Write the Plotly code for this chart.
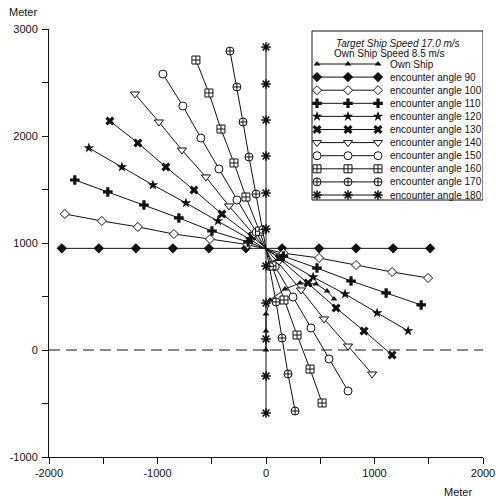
import plotly.graph_objects as go

# ---------------- data (metres) ----------------
own_x = [0, 0, 0, 37, 175, 314, 461, 563, 627]
own_y = [0, 178, 336, 467, 570, 626, 617, 551, 477]

x90 = [-1882, -1541, -1199, -858, -526, -185, 148, 489, 830, 1172, 1513]
y90 = [950, 950, 950, 950, 950, 950, 950, 950, 950, 950, 950]

x100 = [-1854, -1513, -1181, -849, -517, -170, 160, 489, 830, 1162, 1494]
y100 = [1271, 1206, 1150, 1084, 1037, 985, 905, 860, 794, 729, 673]

x110 = [-1762, -1458, -1125, -803, -498, -165, 160, 470, 784, 1107, 1430]
y110 = [1589, 1477, 1355, 1234, 1112, 1010, 877, 766, 645, 533, 421]

x120 = [-1633, -1328, -1042, -738, -443, -150, 140, 434, 729, 1024, 1310]
y120 = [1888, 1710, 1542, 1374, 1206, 1035, 851, 682, 523, 346, 178]

x130 = [-1439, -1181, -923, -664, -406, -130, 120, 387, 646, 904, 1162]
y130 = [2140, 1935, 1710, 1495, 1271, 1060, 858, 626, 393, 178, -47]

x140 = [-1208, -987, -775, -554, -341, -110, 110, 323, 535, 756, 978]
y140 = [2393, 2131, 1869, 1617, 1346, 1080, 817, 561, 290, 37, -224]

x150 = [-950, -766, -600, -434, -268, -90, 85, 249, 415, 581, 756]
y150 = [2579, 2280, 1981, 1692, 1402, 1100, 779, 495, 206, -84, -383]

x160 = [-646, -526, -415, -295, -185, -60, 55, 166, 286, 406, 517]
y160 = [2710, 2402, 2065, 1748, 1430, 1110, 787, 467, 140, -178, -495]

x170 = [-332, -268, -212, -157, -92, -30, 35, 92, 148, 203, 268]
y170 = [2794, 2458, 2131, 1804, 1458, 1125, 780, 449, 112, -224, -570]

x180 = [0, 0, 0, 0, 0, 0, 0, 0, 0, 0, 0]
y180 = [2832, 2486, 2150, 1813, 1467, 1131, 785, 439, 103, -243, -589]

names = ["Own Ship", "encounter angle 90", "encounter angle 100", "encounter angle 110",
         "encounter angle 120", "encounter angle 130", "encounter angle 140",
         "encounter angle 150", "encounter angle 160", "encounter angle 170",
         "encounter angle 180"]
series_x = [own_x, x90, x100, x110, x120, x130, x140, x150, x160, x170, x180]
series_y = [own_y, y90, y100, y110, y120, y130, y140, y150, y160, y170, y180]

x_ticks = [-2000, -1000, 0, 1000, 2000]
x_ticktext = ["-2000", "-1000", "0", "1000", "2000"]
y_ticks = [-1000, 0, 1000, 2000, 3000]
y_ticktext = ["-1000", "0", "1000", "2000", "3000"]

# ---------------- styles ----------------
BLACK = "#111"
styles = [
    dict(symbol="triangle-up", size=6, color=BLACK, line=dict(width=0)),
    dict(symbol="diamond", size=8, color=BLACK, line=dict(width=0)),
    dict(symbol="diamond", size=7, color="white", line=dict(width=1, color=BLACK)),
    dict(symbol="cross", size=8, color=BLACK, line=dict(width=0)),
    dict(symbol="star", size=8, color=BLACK, line=dict(width=0)),
    dict(symbol="x", size=8, color=BLACK, line=dict(width=0)),
    dict(symbol="triangle-down", size=8, color="white", line=dict(width=1, color=BLACK)),
    dict(symbol="circle", size=8, color="white", line=dict(width=1, color=BLACK)),
    dict(symbol="square-cross", size=8, color="white", line=dict(width=1, color=BLACK)),
    dict(symbol="circle-cross", size=8, color="white", line=dict(width=1, color=BLACK)),
    dict(symbol="asterisk-open", size=8, color=BLACK, line=dict(width=1.5, color=BLACK)),
]

FONT = "Liberation Sans, Arial, sans-serif"
W, H = 496, 499
L, R, T, B = 49, 13, 29, 42

fig = go.Figure()

# main data traces (angles first, own ship on top)
order = list(range(1, 11)) + [0]
for i in order:
    fig.add_trace(go.Scatter(
        x=series_x[i], y=series_y[i], mode="lines+markers", name=names[i],
        line=dict(color=BLACK, width=1), marker=styles[i], showlegend=False,
        cliponaxis=False))

# ---------------- custom legend drawn in pixel space (x2/y2) ----------------
box_left, box_right, box_top, box_bottom = 312, 483, 31, 200
row0, row_step = 64, 13.1
samp_x = [317, 348, 378]
for i, nm in enumerate(names):
    yy = row0 + row_step * i
    fig.add_trace(go.Scatter(
        x=samp_x, y=[yy] * len(samp_x), mode="lines+markers", xaxis="x2", yaxis="y2",
        line=dict(color=BLACK, width=1), marker=styles[i], showlegend=False,
        hoverinfo="skip"))
    fig.add_annotation(x=388, y=yy, xref="x2", yref="y2", text=nm, showarrow=False,
                       xanchor="left", yanchor="middle",
                       font=dict(family=FONT, size=10, color=BLACK))

fig.add_annotation(x=398, y=43, xref="x2", yref="y2",
                   text="<i>Target Ship Speed 17.0 m/s</i>", showarrow=False,
                   xanchor="center", yanchor="middle",
                   font=dict(family=FONT, size=10, color=BLACK))
fig.add_annotation(x=389, y=53.5, xref="x2", yref="y2",
                   text="Own Ship Speed 8.5 m/s", showarrow=False,
                   xanchor="center", yanchor="middle",
                   font=dict(family=FONT, size=10, color=BLACK))
fig.add_shape(type="rect", xref="x2", yref="y2", x0=box_left, x1=box_right,
              y0=box_top, y1=box_bottom, line=dict(color=BLACK, width=1),
              fillcolor="rgba(0,0,0,0)", layer="above")

# dashed zero line
fig.add_shape(type="line", xref="x", yref="y", x0=-2000, x1=2000, y0=0, y1=0,
              line=dict(color=BLACK, width=1, dash="11px,6px"), layer="below")

# axis unit labels
fig.add_annotation(x=(23 - L) / (W - L - R), y=(H - B - 12) / (H - T - B), xref="paper", yref="paper",
                   text="Meter", showarrow=False, xanchor="center", yanchor="middle",
                   font=dict(family=FONT, size=11, color=BLACK))
fig.add_annotation(x=(458 - L) / (W - L - R), y=(H - B - 492) / (H - T - B), xref="paper", yref="paper",
                   text="Meter", showarrow=False, xanchor="center", yanchor="middle",
                   font=dict(family=FONT, size=11, color=BLACK))

axis_common = dict(showgrid=False, zeroline=False, showline=True, linecolor=BLACK,
                   linewidth=1, ticks="outside", ticklen=6, tickcolor=BLACK,
                   automargin=False,
                   tickfont=dict(family=FONT, size=11, color=BLACK),
                   minor=dict(ticks="outside", ticklen=6, tickcolor=BLACK, dtick=500))

fig.update_layout(
    width=W, height=H,
    margin=dict(l=L, r=R, t=T, b=B, pad=0),
    paper_bgcolor="white", plot_bgcolor="white",
    showlegend=False,
    xaxis=dict(range=[x_ticks[0], x_ticks[-1]], tickvals=x_ticks, ticktext=x_ticktext,
               **axis_common),
    yaxis=dict(range=[y_ticks[0], y_ticks[-1]], tickvals=y_ticks, ticktext=y_ticktext,
               ticklabelstandoff=2, **axis_common),
    xaxis2=dict(range=[L, W - R], overlaying="x", visible=False, domain=[0, 1]),
    yaxis2=dict(range=[H - B, T], overlaying="y", visible=False, domain=[0, 1]),
)

fig.write_html("out.html")
